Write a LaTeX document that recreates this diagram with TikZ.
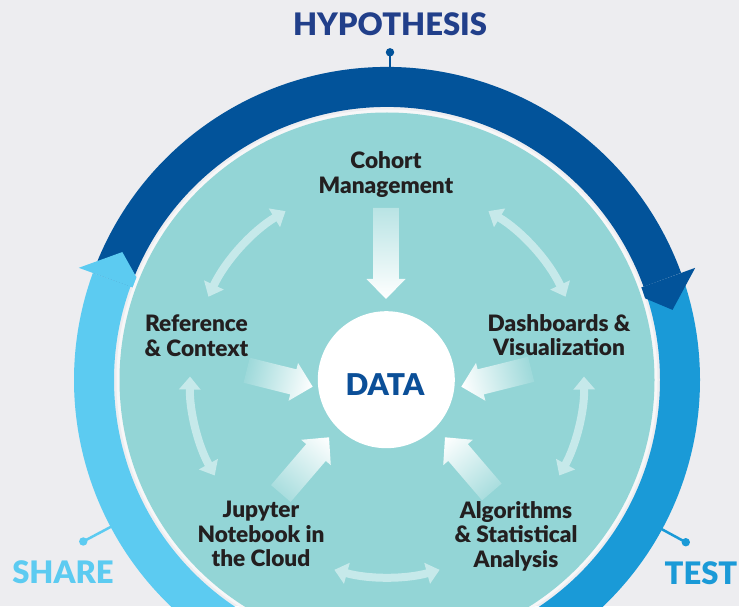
\documentclass[tikz,border=0pt]{standalone}
\usepackage{fontspec}
\setmainfont{Lato}
\newfontfamily\latoblack{Lato Black}
\usetikzlibrary{arrows.meta,calc}
\definecolor{bg}{HTML}{EDEDF0}
\definecolor{darkring}{HTML}{02539A}
\definecolor{midring}{HTML}{1A9AD7}
\definecolor{lightring}{HTML}{5CCBF1}
\definecolor{tealbg}{HTML}{93D5D6}
\definecolor{hypo}{HTML}{213F8A}
\definecolor{datablue}{HTML}{0B4F98}
\definecolor{labeltext}{HTML}{231F20}
\definecolor{softarrow}{HTML}{C6E9EA}
\newcommand\bigfadearrow[4]{%
  \begin{scope}[transform canvas={shift={(#1)},rotate=#2}]
    \shade[left color=tealbg!#4!white, middle color=white, right color=white]
      (0,0) -- (-20,19.5) -- (-20,12.9) -- (-#3,12.9) -- (-#3,-12.9)
      -- (-20,-12.9) -- (-20,-19.5) -- cycle;
  \end{scope}}
\begin{document}
\begin{tikzpicture}[x=1pt,y=1pt,
  ring/.style={line width=40pt},
  lbl/.style={font=\fontsize{22.6}{24.5}\selectfont\latoblack, text=labeltext, align=center, inner sep=0pt},
  big/.style={font=\fontsize{31}{32}\selectfont\latoblack, inner sep=0pt},
  soft/.style={draw=softarrow, line width=8pt, {Triangle[width=21pt,length=13pt]}-{Triangle[width=21pt,length=13pt]}},
  pin/.style={line width=2.5pt}]
\useasboundingbox (0,0) rectangle (739,606);
\fill[bg] (0,0) rectangle (739,606);
\clip (0,0) rectangle (739,606);
\coordinate (C) at (387,226);
% outer ring
\draw[ring, midring] ($(C)+(18:293)$) arc (18:-90:293);
\draw[ring, darkring] ($(C)+(160:293)$) arc (160:20:293);
\fill[darkring] ($(C)+(20:258)$) -- ($(C)+(20:328)$) -- ($(C)+(13.8:294)$) -- cycle;
\draw[ring, lightring] ($(C)+(270:293)$) arc (270:160:293);
\fill[lightring] ($(C)+(160:258)$) -- ($(C)+(160:328)$) -- ($(C)+(154.2:294)$) -- cycle;
% pins
\coordinate (hypA) at (390,539);
\coordinate (hypB) at (390,553.7);
\draw[pin, darkring] (hypA) -- (hypB);
\fill[darkring] (hypB) circle (4.2);
\coordinate (shaA) at ($(C)+(208:310)$);
\coordinate (shaB) at ($(C)+(208:344)$);
\draw[pin, lightring] (shaA) -- (shaB);
\fill[lightring] (shaB) circle (4.2);
\coordinate (tesA) at ($(C)+(-28.5:310)$);
\coordinate (tesB) at ($(C)+(-28.5:340)$);
\draw[pin, midring] (tesA) -- (tesB);
\fill[midring] (tesB) circle (4.2);
% inner disc
\fill[white!55!bg] (C) circle (270.5);
\fill[tealbg] (C) circle (267.5);
% soft double arrows
\draw[soft] ($(C)+(121:197)$) arc (121:155:197);
\draw[soft] ($(C)+(59:197)$) arc (59:25:197);
\draw[soft] ($(C)+(179:197)$) arc (179:209:197);
\draw[soft] ($(C)+(1:197)$) arc (1:-29:197);
\draw[soft] ($(C)+(254.5:197)$) arc (254.5:285.5:197);
% big arrows to DATA
\coordinate (tipC) at (386,307);
\coordinate (tipR) at (312.7,219.3);
\coordinate (tipD) at (461.3,219.3);
\coordinate (tipJ) at (329,168.7);
\coordinate (tipA) at (445,168.7);
\bigfadearrow{tipC}{-90}{91}{65}
\bigfadearrow{tipR}{-14}{68}{90}
\bigfadearrow{tipD}{194}{72}{90}
\bigfadearrow{tipJ}{49.4}{74}{80}
\bigfadearrow{tipA}{130.6}{72}{80}
% data
\node[circle, fill=white, minimum size=137pt, inner sep=0pt] (data) at (386.3,226.3) {};
\node[big, font=\fontsize{30}{31}\selectfont\latoblack, text=datablue, anchor=base] (datalbl) at (385,211) {DATA};
% labels (base anchor = baseline of last line)
\node[lbl, anchor=base] (cohort) at (386,412.5) {Cohort\\Management};
\node[lbl, anchor=base] (ref) at (196.5,250) {Reference\\\& Context};
\node[lbl, anchor=base] (dash) at (559,250.4) {Dashboards \&\\Visualization};
\node[lbl, anchor=base] (jup) at (261,39.3) {Jupyter\\Notebook in\\the Cloud};
\node[lbl, anchor=base] (alg) at (516,39) {Algorithms\\\& Statistical\\Analysis};
\node[big, text=hypo, anchor=base] (hyp) at (390,570) {HYPOTHESIS};
\node[big, text=lightring, anchor=base] (share) at (63,22.7) {SHARE};
\node[big, text=midring, anchor=base] (test) at (701,22) {TEST};
\end{tikzpicture}
\end{document}
